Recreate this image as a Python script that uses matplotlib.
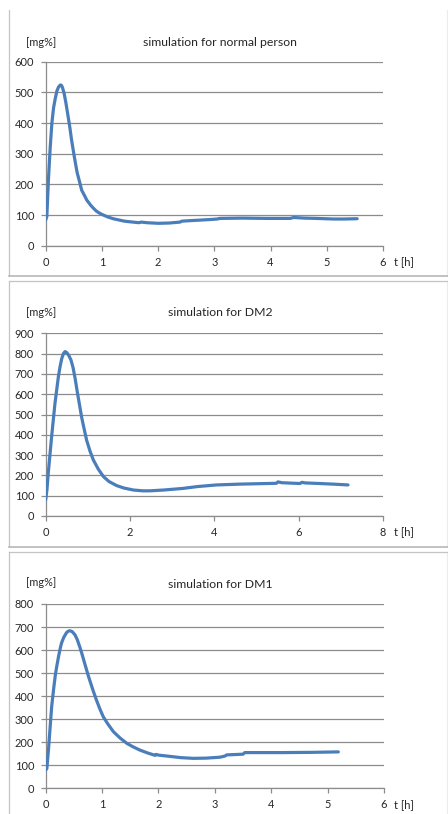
import matplotlib
matplotlib.use("Agg")
import matplotlib.pyplot as plt
from matplotlib.lines import Line2D

plt.rcParams['font.family'] = ['Lato', 'DejaVu Sans']

# ---- data ----
t_normal = [0.0, 0.02, 0.05, 0.08, 0.11, 0.14, 0.17, 0.20, 0.23, 0.26, 0.28, 0.30, 0.33,
            0.36, 0.40, 0.43, 0.46, 0.50, 0.53, 0.56, 0.60, 0.64, 0.70, 0.73, 0.80, 0.85,
            0.90, 0.95, 1.0, 1.1, 1.2, 1.3, 1.4, 1.5, 1.6, 1.66, 1.70, 1.8, 2.0, 2.2, 2.39,
            2.42, 2.6, 2.8, 2.98, 3.05, 3.1, 3.5, 3.93, 4.35, 4.41, 4.6, 4.82, 5.12, 5.3, 5.54]
g_normal = [84, 95, 220, 320, 400, 450, 480, 505, 518, 524, 523, 515, 495,
            465, 420, 385, 345, 300, 268, 238, 210, 181, 160, 149, 132, 122,
            113, 107, 102, 94, 88, 84, 80, 78, 76, 75, 77, 75, 73, 74, 77,
            80, 82, 84, 86, 87, 89, 90, 89, 89, 92, 90, 89, 87, 87, 88]

t_dm2 = [0.0, 0.03, 0.06, 0.10, 0.14, 0.18, 0.22, 0.26, 0.30, 0.34, 0.38, 0.42, 0.46,
         0.50, 0.55, 0.60, 0.65, 0.70, 0.75, 0.80, 0.85, 0.90, 0.97, 1.05, 1.13, 1.25,
         1.37, 1.5, 1.68, 1.85, 2.08, 2.3, 2.47, 2.8, 3.26, 3.6, 4.05, 4.6, 5.24, 5.47,
         5.51, 5.6, 6.03, 6.08, 6.15, 6.5, 6.82, 7.17]
g_dm2 = [80, 130, 210, 300, 390, 473, 555, 620, 685, 735, 775, 800, 810,
         805, 790, 768, 730, 675, 610, 550, 489, 440, 374, 320, 276, 230,
         194, 170, 150, 138, 128, 124, 124, 128, 136, 145, 153, 157, 160, 161,
         168, 164, 160, 166, 163, 160, 157, 153]

t_dm1 = [0.0, 0.02, 0.05, 0.08, 0.106, 0.14, 0.17, 0.195, 0.23, 0.26, 0.28, 0.32, 0.37,
         0.40, 0.43, 0.47, 0.52, 0.56, 0.60, 0.64, 0.70, 0.76, 0.83, 0.9, 0.96, 1.02,
         1.1, 1.2, 1.32, 1.44, 1.55, 1.67, 1.8, 1.94, 1.96, 2.0, 2.15, 2.4, 2.62, 2.85,
         3.09, 3.18, 3.21, 3.5, 3.53, 4.21, 4.7, 5.19]
g_dm1 = [80, 85, 170, 270, 355, 430, 490, 528, 575, 610, 630, 655, 676,
         682, 684, 680, 666, 645, 617, 586, 535, 485, 432, 383, 345, 311,
         280, 246, 218, 195, 180, 166, 154, 143, 147, 144, 140, 133, 130, 131,
         135, 140, 145, 148, 155, 155, 156, 158]

titles = ["simulation for normal person", "simulation for DM2", "simulation for DM1"]
x_max = [6, 8, 6]
x_step = [1, 2, 1]
y_max = [600, 900, 800]
y_unit = "[mg%]"
x_unit = "t [h]"

W, H = 448, 814
fig = plt.figure(figsize=(W / 100, H / 100), dpi=100)
fig.patch.set_facecolor('white')

# axes boxes in pixels: left, right, top, bottom
boxes = [(45.7, 383, 61.7, 245.7), (45.7, 383, 333.3, 516), (45.7, 384, 604, 788.3)]
title_y = [43, 313, 585]
unit_y = [42, 312, 583]
tlabel_y = [262, 532, 805]

series = [(t_normal, g_normal), (t_dm2, g_dm2), (t_dm1, g_dm1)]
grid_c = '#8c8c8c'
line_c = '#4a7ebb'
text_c = '#262626'

for i in range(3):
    l, r, tp, b = boxes[i]
    ax = fig.add_axes([l / W, 1 - b / H, (r - l) / W, (b - tp) / H])
    t, g = series[i]
    ax.plot(t, g, color=line_c, lw=2.3, solid_capstyle='round', solid_joinstyle='round', zorder=3)
    ax.set_xlim(0, x_max[i])
    ax.set_ylim(0, y_max[i])
    ax.set_xticks(range(0, x_max[i] + 1, x_step[i]))
    ax.set_yticks(range(0, y_max[i] + 1, 100))
    ax.grid(axis='y', color=grid_c, lw=0.9)
    ax.set_axisbelow(True)
    for s in ['top', 'right']:
        ax.spines[s].set_visible(False)
    for s in ['left', 'bottom']:
        ax.spines[s].set_color(grid_c)
        ax.spines[s].set_linewidth(0.9)
    ax.tick_params(axis='both', colors=grid_c, length=3.5, width=0.9, labelsize=7.9,
                   labelcolor=text_c)
    ax.tick_params(axis='y', pad=4.8)
    ax.tick_params(axis='x', pad=4.3)
    fig.text(220 / W, 1 - title_y[i] / H, titles[i], ha='center', va='center',
             fontsize=8.8, color=text_c)
    fig.text(26 / W, 1 - unit_y[i] / H, y_unit, ha='left', va='center',
             fontsize=7.8, color=text_c)
    fig.text(394 / W, 1 - tlabel_y[i] / H, x_unit, ha='left', va='center',
             fontsize=8.0, color=text_c)

# panel frames
frame_c = '#c4c4c4'
tops = [10, 281, 551.5]
bottoms = [276, 546.5, 814]
for tp, b in zip(tops, bottoms):
    fig.add_artist(Line2D([9 / W, 9 / W], [1 - tp / H, 1 - b / H], color=frame_c, lw=0.9))
    fig.add_artist(Line2D([446.5 / W, 446.5 / W], [1 - tp / H, 1 - b / H], color='#ececec', lw=0.8))
for tp in tops[1:]:
    fig.add_artist(Line2D([9 / W, 1], [1 - tp / H, 1 - tp / H], color=frame_c, lw=0.9))
for b in bottoms[:2]:
    fig.add_artist(Line2D([9 / W, 1], [1 - b / H, 1 - b / H], color='#b8b8b8', lw=1.2))

fig.savefig('out.png', dpi=100, facecolor='white')
